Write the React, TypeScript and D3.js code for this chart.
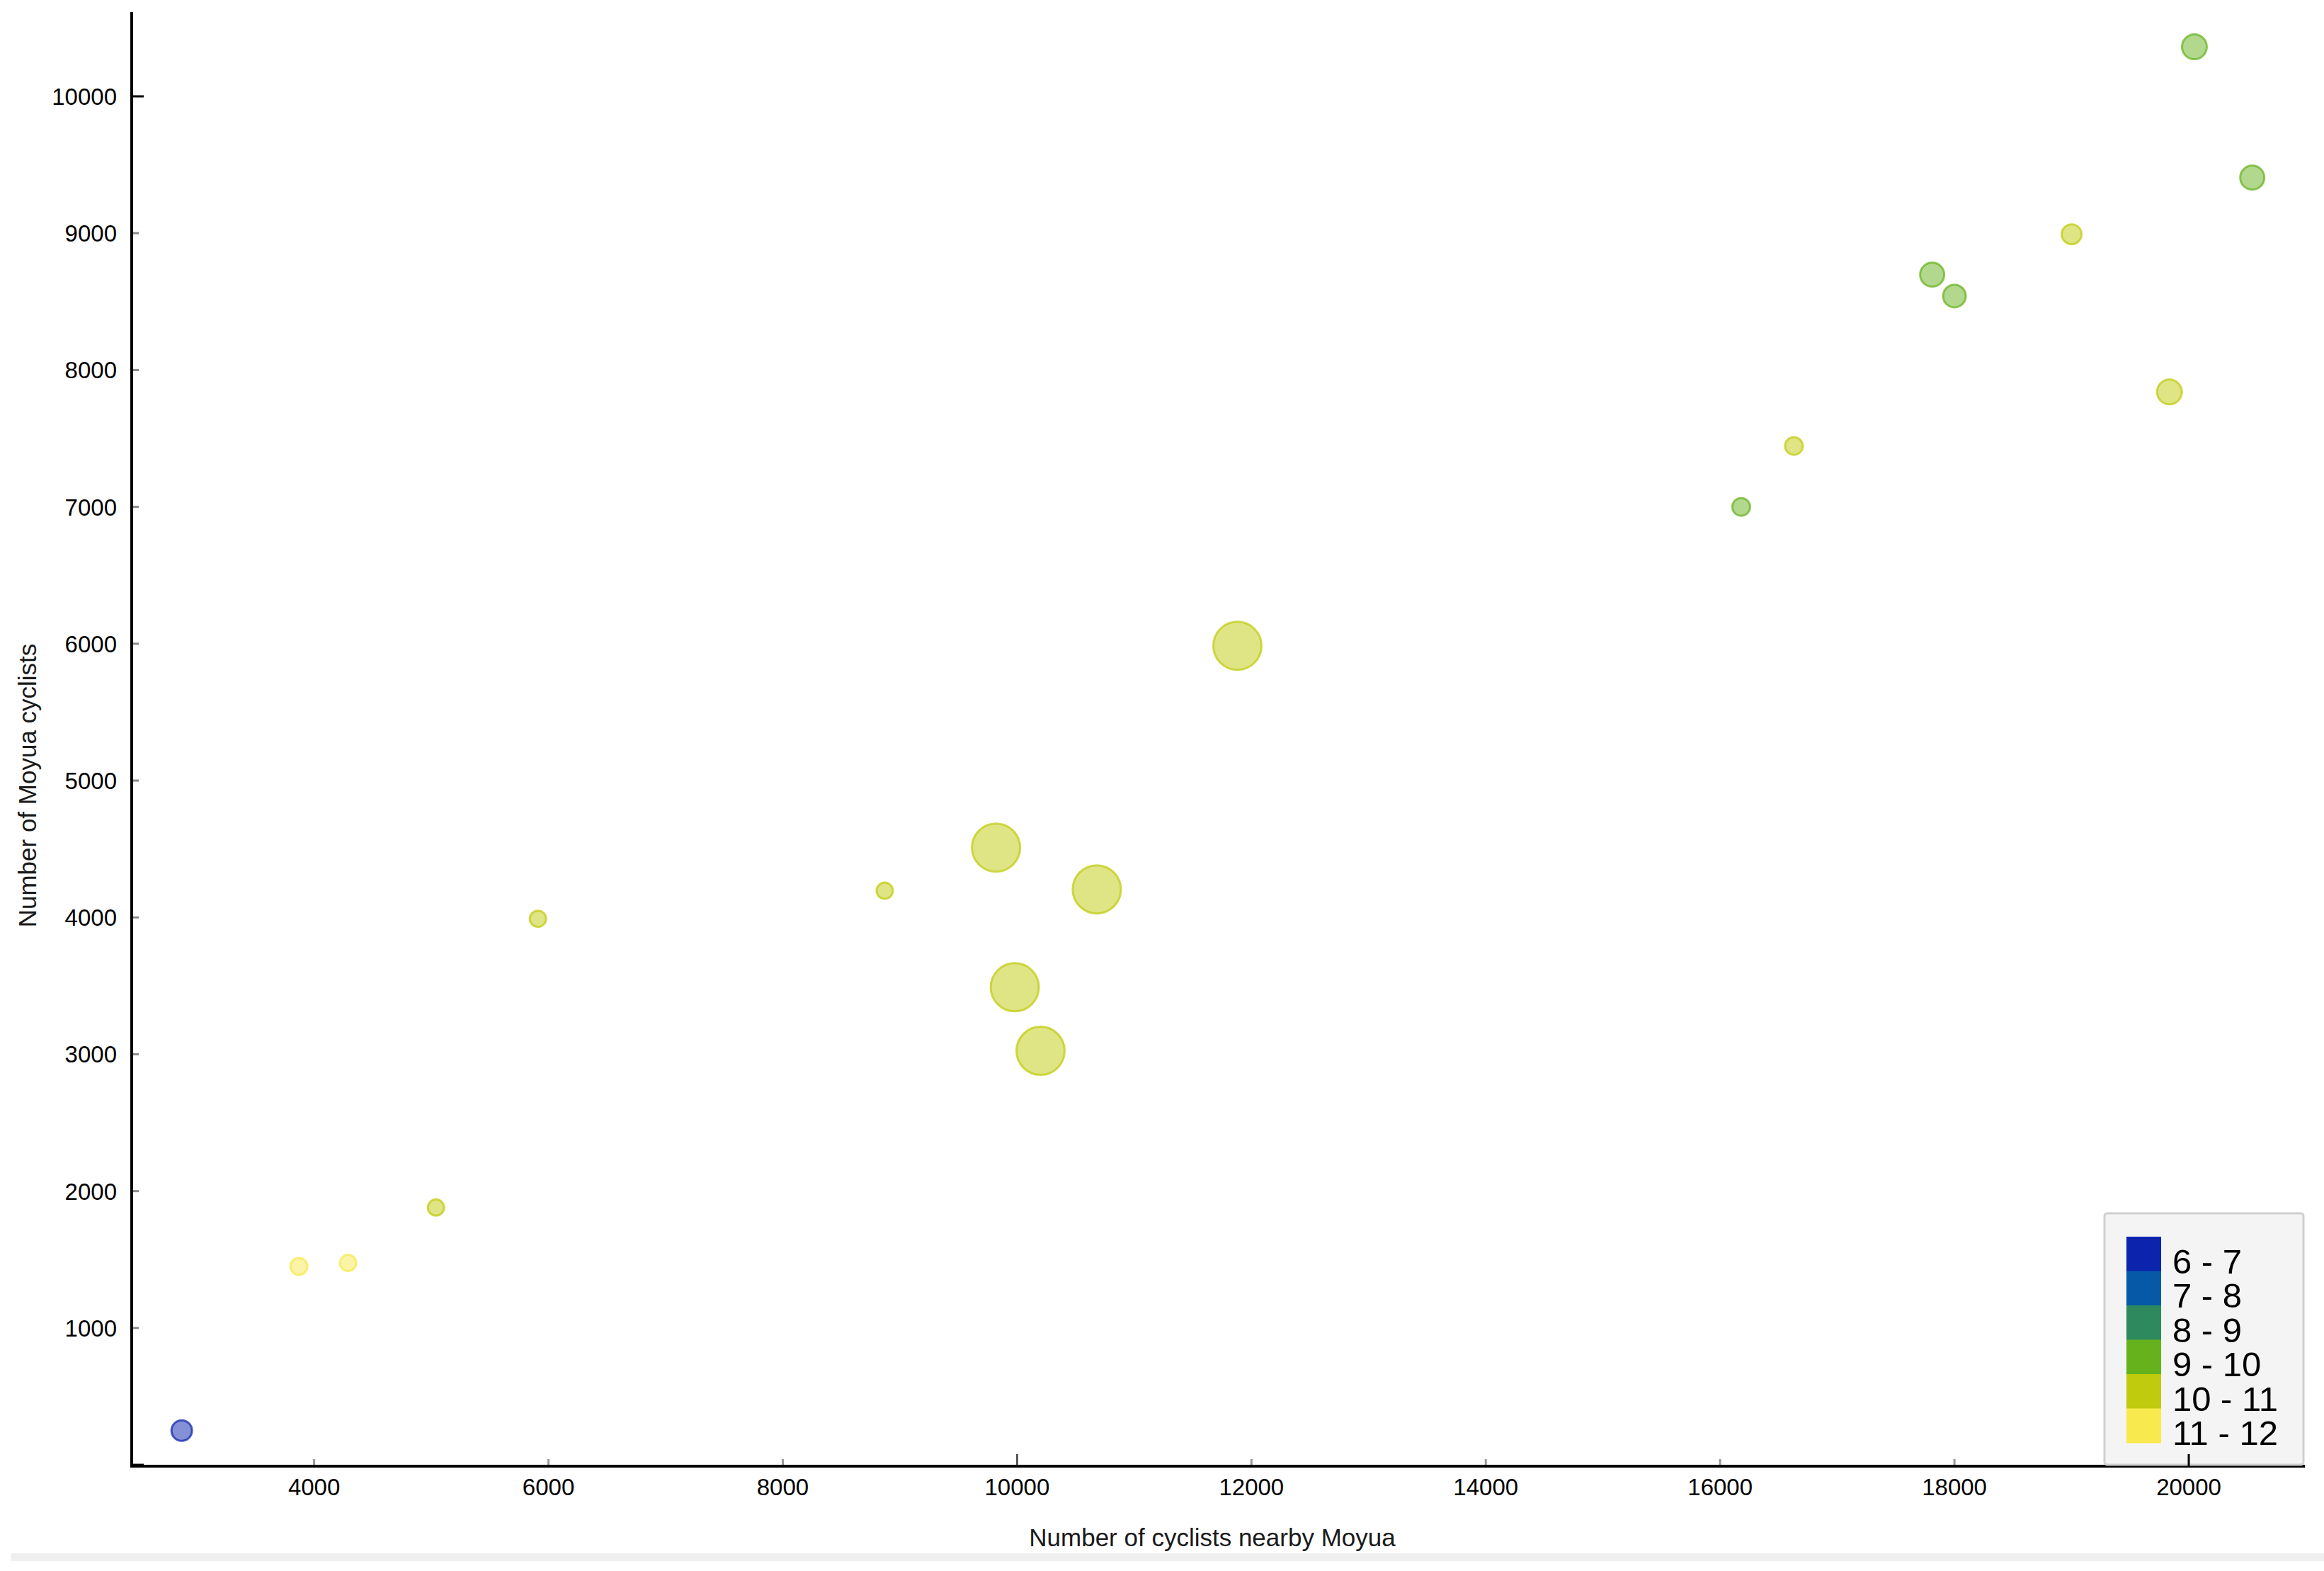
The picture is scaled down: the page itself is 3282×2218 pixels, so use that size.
import React from "react";
import * as d3 from "d3";

// ---- data ----
const cyclistsNearby = [2870, 3870, 4290, 5040, 5910, 8870, 9820, 10680, 9980, 10200, 11880, 16180, 16630, 17810, 18000, 19000, 19835, 20048, 20542];
const moyuaCyclists = [250, 1450, 1475, 1880, 3990, 4195, 4510, 4205, 3490, 3025, 5985, 7000, 7445, 8697, 8541, 8992, 7840, 10362, 9406];
const hourClass = ["6 - 7", "11 - 12", "11 - 12", "10 - 11", "10 - 11", "10 - 11", "10 - 11", "10 - 11", "10 - 11", "10 - 11", "10 - 11", "9 - 10", "10 - 11", "9 - 10", "9 - 10", "10 - 11", "10 - 11", "9 - 10", "9 - 10"];
const bubbleSize = [14.5, 12, 11.5, 11.5, 11.5, 11.5, 34, 34, 34, 34, 34, 12.5, 12.5, 17, 16, 14, 17.5, 17.5, 17];

const legendLabels = ["6 - 7", "7 - 8", "8 - 9", "9 - 10", "10 - 11", "11 - 12"];
const legendColors = ["#0c23ad", "#0659a6", "#2e8a5e", "#66b21c", "#bfcb0c", "#f7e94e"];

const xTicks = [4000, 6000, 8000, 10000, 12000, 14000, 16000, 18000, 20000];
const yTicks = [0, 1000, 2000, 3000, 4000, 5000, 6000, 7000, 8000, 9000, 10000];

const xTitle = "Number of cyclists nearby Moyua";
const yTitle = "Number of Moyua cyclists";

const W = 3282;
const H = 2218;
const FONT = "'Liberation Sans', Arial, sans-serif";

export default function App() {
  const x = d3.scaleLinear().domain([2443, 20991]).range([186, 3255]);
  const y = d3.scaleLinear().domain([-10, 10616]).range([2070, 17]);
  const r = d3.scaleLinear().domain([0, 40]).range([0, 40]);
  const color = d3.scaleOrdinal<string, string>().domain(legendLabels).range(legendColors);

  const pts = cyclistsNearby.map((v, i) => ({ x: v, y: moyuaCyclists[i], c: hourClass[i], s: bubbleSize[i] }));
  const order = d3.range(pts.length).sort((a, b) => d3.descending(pts[a].s, pts[b].s));

  const legendBand = d3.scaleBand<string>().domain(legendLabels).range([1746, 2037]);
  const x0 = x.range()[0];
  const y0 = y.range()[0];

  return (
    <svg width={W} height={H} style={{ position: "absolute", left: 0, top: 0, background: "#fff" }} fontFamily={FONT}>
      <rect x={0} y={0} width={W} height={H} fill="#ffffff" />
      <rect x={16} y={2193} width={W - 16} height={11} fill="#efefef" />

      {order.map((i) => {
        const p = pts[i];
        const col = color(p.c);
        return (
          <circle
            key={i}
            cx={x(p.x)}
            cy={y(p.y)}
            r={r(p.s)}
            fill={col}
            fillOpacity={0.5}
            stroke={col}
            strokeOpacity={0.72}
            strokeWidth={3}
          />
        );
      })}

      {yTicks.map((t) => {
        const major = t % 10000 === 0;
        return (
          <g key={"y" + t}>
            <line x1={x0} x2={x0 + (major ? 17 : 10)} y1={y(t)} y2={y(t)} stroke={major ? "#000" : "#8a8a8a"} strokeWidth={3} />
            {t > 0 && (
              <text x={165} y={y(t)} dy="0.36em" textAnchor="end" fontSize={33} fill="#000">
                {t}
              </text>
            )}
          </g>
        );
      })}
      {xTicks.map((t) => {
        const major = t % 10000 === 0;
        return (
          <g key={"x" + t}>
            <line x1={x(t)} x2={x(t)} y1={y0} y2={y0 - (major ? 17 : 10)} stroke={major ? "#555" : "#9a9a9a"} strokeWidth={3} />
            <text x={x(t)} y={2099} dy="0.36em" textAnchor="middle" fontSize={33} fill="#000">
              {t}
            </text>
          </g>
        );
      })}

      <line x1={x0} x2={x0} y1={y.range()[1]} y2={y0 + 1.5} stroke="#000" strokeWidth={4} />
      <line x1={x0 - 2} x2={x.range()[1]} y1={y0} y2={y0} stroke="#000" strokeWidth={4} />

      <text x={1712} y={2170} dy="0.36em" textAnchor="middle" fontSize={35} fill="#1a1a1a">
        {xTitle}
      </text>
      <text transform={`translate(38,1109) rotate(-90)`} dy="0.36em" textAnchor="middle" fontSize={35} fill="#1a1a1a">
        {yTitle}
      </text>

      <rect x={2972} y={1713} width={281} height={355} rx={4} fill="#f4f4f4" stroke="#d0d0d0" strokeWidth={3} />
      {legendLabels.map((l, i) => (
        <g key={l}>
          <rect x={3003} y={legendBand(l)!} width={49} height={legendBand.bandwidth() + 0.5} fill={legendColors[i]} />
          <text x={3068} y={legendBand(l)! + legendBand.bandwidth() / 2 + 10} dy="0.36em" fontSize={49} fill="#000">
            {l}
          </text>
        </g>
      ))}
      <line x1={x(20000)} x2={x(20000)} y1={y0} y2={y0 - 17} stroke="#000" strokeWidth={3} />
    </svg>
  );
}
